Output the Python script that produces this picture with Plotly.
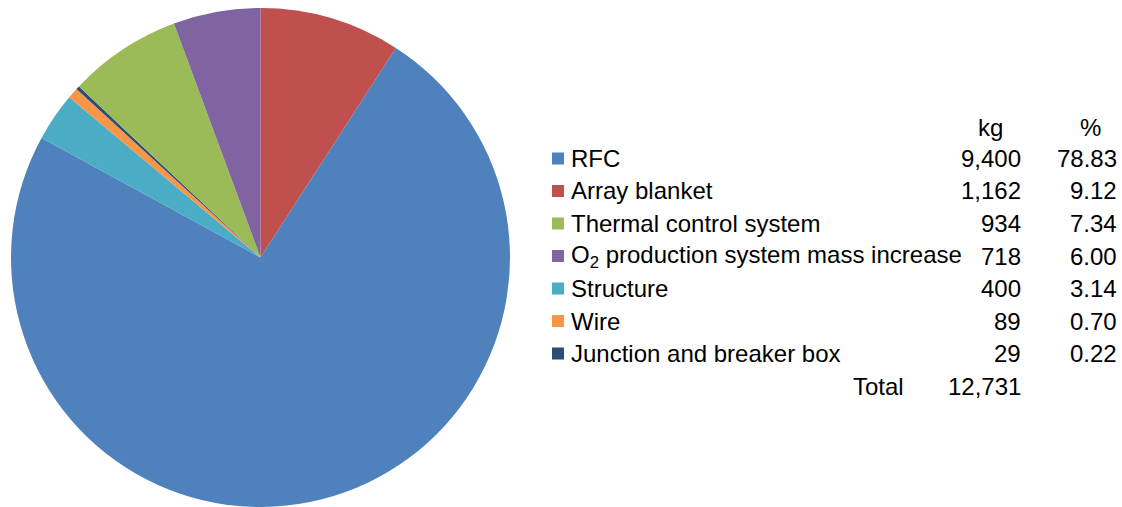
import plotly.graph_objects as go

# Legend/table order
categories = ["RFC", "Array blanket", "Thermal control system",
              "O<sub>2</sub> production system mass increase", "Structure",
              "Wire", "Junction and breaker box"]
mass_kg = [9400, 1162, 934, 718, 400, 89, 29]
pct_labels = ["78.83", "9.12", "7.34", "6.00", "3.14", "0.70", "0.22"]
total_label = "12,731"
colors = ["#4F81BD", "#C0504D", "#9BBB59", "#8064A2", "#4BACC6", "#F79646", "#2C4D75"]

# Order in which slices are drawn clockwise from 12 o'clock
pie_order = [1, 0, 4, 5, 6, 2, 3]

W, H = 1122, 507
FONT = "Liberation Sans, Arial, sans-serif"
FS = 24


def px(pix):
    return pix / W


def py(pix):
    return 1 - pix / H


fig = go.Figure()
fig.add_trace(go.Pie(
    labels=[categories[i] for i in pie_order],
    values=[mass_kg[i] for i in pie_order],
    marker=dict(colors=[colors[i] for i in pie_order], line=dict(width=0)),
    sort=False, direction="clockwise", rotation=0,
    textinfo="none", hoverinfo="label+value",
    domain=dict(x=[px(11), px(510)], y=[py(507), py(8)]),
    showlegend=False,
))

annotations = []
shapes = []
row0, step = 158.5, 32.5
x_label, x_kg, x_pct = 571, 1021, 1117

annotations.append(dict(x=px(990), y=py(128), text="kg", xanchor="center"))
annotations.append(dict(x=px(1090), y=py(128), text="%", xanchor="center"))

for i, (cat, kg, pc, col) in enumerate(zip(categories, mass_kg, pct_labels, colors)):
    yc = row0 + step * i
    shapes.append(dict(type="rect", xref="paper", yref="paper",
                       x0=px(552), x1=px(564), y0=py(yc + 6), y1=py(yc - 6),
                       fillcolor=col, line=dict(width=0)))
    annotations.append(dict(x=px(x_label), y=py(yc), text=cat, xanchor="left"))
    annotations.append(dict(x=px(x_kg), y=py(yc), text=f"{kg:,}", xanchor="right"))
    annotations.append(dict(x=px(x_pct), y=py(yc), text=pc, xanchor="right"))

yt = row0 + step * len(categories)
annotations.append(dict(x=px(904), y=py(yt), text="Total", xanchor="right"))
annotations.append(dict(x=px(x_kg), y=py(yt), text=total_label, xanchor="right"))

for a in annotations:
    a.update(xref="paper", yref="paper", showarrow=False, yanchor="middle",
             borderpad=0, borderwidth=0,
             font=dict(family=FONT, size=FS, color="#000000"))

fig.update_layout(
    width=W, height=H,
    margin=dict(l=0, r=0, t=0, b=0),
    paper_bgcolor="white", plot_bgcolor="white",
    annotations=annotations, shapes=shapes,
    font=dict(family=FONT, size=FS, color="#000000"),
)

fig.write_html(
    "out.html",
    config={"displayModeBar": False},
    post_script="document.body.style.margin='0';document.body.style.overflow='hidden';"
                "document.documentElement.style.overflow='hidden';",
)
